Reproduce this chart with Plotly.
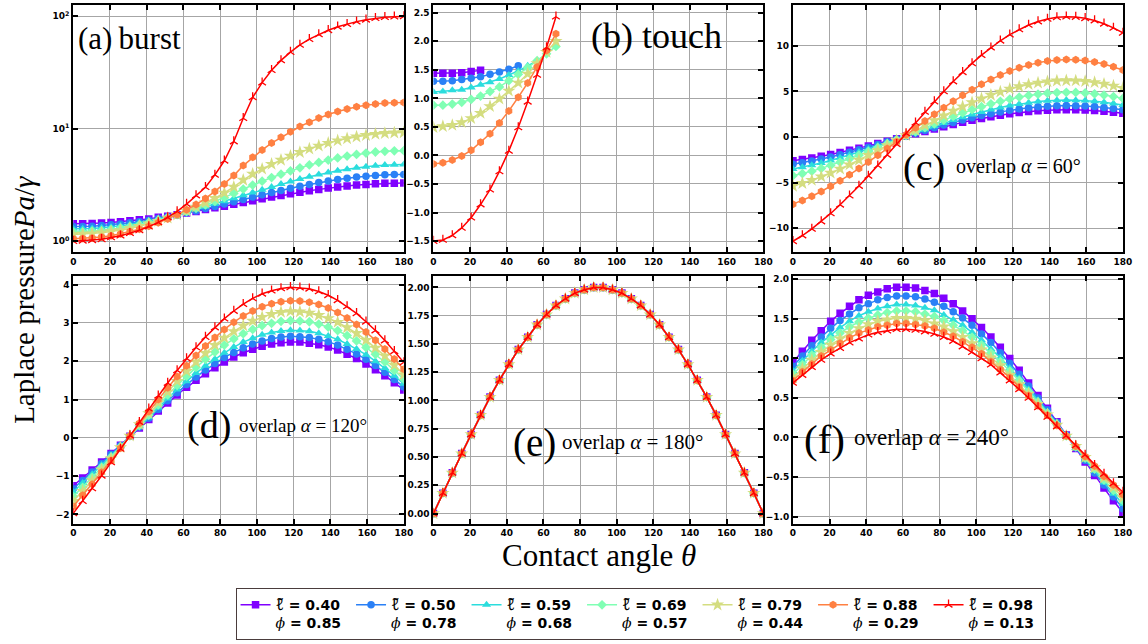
import plotly.graph_objects as go

# ---------------- data ----------------
theta = [0.0, 5.14, 10.29, 15.43, 20.57, 25.71, 30.86, 36.0, 41.14, 46.29, 51.43, 56.57,
         61.71, 66.86, 72.0, 77.14, 82.29, 87.43, 92.57, 97.71, 102.86, 108.0, 113.14, 118.29,
         123.43, 128.57, 133.71, 138.86, 144.0, 149.14, 154.29, 159.43, 164.57, 169.71, 174.86, 180.0]

ell_labels = ["0.40", "0.50", "0.59", "0.69", "0.79", "0.88", "0.98"]
phi_labels = ["0.85", "0.78", "0.68", "0.57", "0.44", "0.29", "0.13"]

# (a) burst  (log scale)
burst_040 = [1.43,1.43,1.44,1.45,1.47,1.49,1.52,1.55,1.58,1.63,1.67,1.72,1.78,1.84,1.91,1.98,2.05,2.13,2.21,2.29,2.38,2.47,2.55,2.64,2.73,2.81,2.89,2.97,3.04,3.10,3.16,3.20,3.24,3.27,3.28,3.29]
burst_050 = [1.35,1.35,1.36,1.38,1.40,1.42,1.46,1.49,1.54,1.59,1.65,1.71,1.79,1.86,1.95,2.04,2.14,2.24,2.35,2.47,2.59,2.71,2.83,2.96,3.08,3.20,3.32,3.43,3.54,3.63,3.72,3.79,3.84,3.89,3.91,3.92]
burst_059 = [1.29,1.29,1.30,1.32,1.34,1.37,1.41,1.46,1.51,1.58,1.65,1.73,1.82,1.92,2.03,2.15,2.27,2.41,2.56,2.71,2.87,3.04,3.22,3.39,3.57,3.74,3.91,4.08,4.23,4.37,4.50,4.60,4.69,4.75,4.79,4.80]
burst_069 = [1.21,1.21,1.23,1.24,1.27,1.31,1.35,1.40,1.47,1.54,1.63,1.72,1.83,1.96,2.10,2.26,2.44,2.66,2.91,3.16,3.42,3.68,3.94,4.22,4.49,4.76,5.01,5.27,5.50,5.72,5.91,6.07,6.21,6.30,6.36,6.38]
burst_079 = [1.15,1.16,1.17,1.19,1.22,1.25,1.30,1.36,1.43,1.51,1.61,1.72,1.86,2.02,2.20,2.42,2.69,3.04,3.50,3.96,4.39,4.85,5.27,5.73,6.18,6.62,7.05,7.45,7.84,8.18,8.49,8.75,8.96,9.11,9.21,9.25]
burst_088 = [1.05,1.06,1.07,1.09,1.12,1.16,1.22,1.28,1.36,1.46,1.58,1.72,1.90,2.12,2.40,2.77,3.23,3.83,4.70,5.57,6.48,7.45,8.39,9.42,10.46,11.44,12.45,13.39,14.2,15.0,15.7,16.2,16.6,16.9,17.05,17.1]
burst_098 = [1.00,1.01,1.02,1.04,1.08,1.12,1.18,1.25,1.35,1.47,1.63,1.84,2.14,2.55,3.02,3.89,5.19,7.7,12.4,19.0,25.7,33.1,40.5,48.0,55.5,62.5,69.0,75.0,80.5,85.0,89.5,93.0,96.0,98.0,99.0,99.5]

# (b) touch  (series stop at different angles)
touch_040 = [1.44,1.44,1.44,1.45,1.47,1.49]
touch_050 = [1.30,1.30,1.31,1.33,1.35,1.38,1.42,1.46,1.51,1.57]
touch_059 = [1.11,1.12,1.14,1.15,1.19,1.24,1.28,1.34,1.41,1.48,1.57,1.66]
touch_069 = [0.88,0.88,0.90,0.93,0.98,1.04,1.12,1.20,1.31,1.42,1.54,1.66,1.78,1.91]
touch_079 = [0.49,0.51,0.53,0.58,0.65,0.74,0.86,0.99,1.13,1.27,1.43,1.61,1.81,2.00]
touch_088 = [-0.15,-0.13,-0.08,-0.01,0.09,0.23,0.38,0.57,0.78,1.02,1.27,1.55,1.84,2.13]
touch_098 = [-1.50,-1.48,-1.40,-1.27,-1.09,-0.86,-0.60,-0.28,0.08,0.49,0.94,1.41,1.89,2.43]

# (c) overlap alpha = 60
ov60_040 = [-2.60,-2.45,-2.29,-2.11,-1.91,-1.69,-1.46,-1.22,-0.97,-0.71,-0.45,-0.18,0.09,0.36,0.62,0.89,1.14,1.38,1.61,1.84,2.04,2.23,2.40,2.55,2.68,2.79,2.88,2.94,2.99,3.00,2.99,2.96,2.90,2.82,2.72,2.60]
ov60_050 = [-2.99,-2.82,-2.63,-2.42,-2.19,-1.94,-1.68,-1.40,-1.11,-0.82,-0.51,-0.21,0.10,0.41,0.72,1.02,1.31,1.59,1.86,2.11,2.35,2.56,2.76,2.94,3.08,3.21,3.31,3.38,3.43,3.45,3.44,3.41,3.34,3.25,3.13,2.99]
ov60_059 = [-3.51,-3.31,-3.09,-2.84,-2.57,-2.28,-1.97,-1.65,-1.31,-0.96,-0.60,-0.24,0.12,0.48,0.84,1.19,1.53,1.87,2.18,2.48,2.75,3.01,3.24,3.45,3.62,3.77,3.89,3.97,4.03,4.05,4.04,4.00,3.92,3.81,3.67,3.51]
ov60_069 = [-4.24,-4.01,-3.74,-3.44,-3.11,-2.76,-2.39,-1.99,-1.58,-1.16,-0.73,-0.29,0.15,0.58,1.02,1.45,1.86,2.26,2.64,3.00,3.33,3.64,3.92,4.17,4.38,4.56,4.70,4.81,4.88,4.90,4.89,4.84,4.74,4.61,4.44,4.24]
ov60_079 = [-5.37,-5.07,-4.73,-4.35,-3.94,-3.49,-3.02,-2.52,-2.00,-1.47,-0.92,-0.37,0.19,0.74,1.29,1.83,2.35,2.86,3.34,3.79,4.22,4.61,4.96,5.28,5.54,5.77,5.95,6.08,6.17,6.20,6.18,6.12,6.00,5.83,5.62,5.37]
ov60_088 = [-7.36,-6.95,-6.49,-5.97,-5.40,-4.79,-4.14,-3.46,-2.75,-2.01,-1.27,-0.51,0.26,1.01,1.77,2.51,3.22,3.92,4.57,5.20,5.78,6.32,6.80,7.23,7.60,7.91,8.16,8.34,8.46,8.50,8.47,8.39,8.23,8.00,7.71,7.36]
ov60_098 = [-11.43,-10.80,-10.07,-9.27,-8.38,-7.43,-6.43,-5.37,-4.26,-3.13,-1.97,-0.79,0.40,1.57,2.75,3.89,5.00,6.09,7.10,8.08,8.98,9.81,10.56,11.23,11.80,12.29,12.67,12.95,13.13,13.20,13.16,13.03,12.78,12.42,11.97,11.43]

# (d) overlap alpha = 120
ov120_040 = [-1.25,-1.05,-0.84,-0.63,-0.41,-0.19,0.04,0.26,0.48,0.70,0.91,1.12,1.32,1.50,1.67,1.83,1.98,2.11,2.22,2.31,2.39,2.45,2.48,2.50,2.50,2.47,2.43,2.37,2.29,2.18,2.07,1.93,1.78,1.62,1.44,1.25]
ov120_050 = [-1.33,-1.11,-0.89,-0.67,-0.43,-0.20,0.04,0.28,0.51,0.74,0.97,1.18,1.39,1.59,1.77,1.94,2.10,2.23,2.35,2.45,2.53,2.59,2.63,2.65,2.64,2.62,2.57,2.51,2.42,2.31,2.19,2.05,1.89,1.71,1.52,1.33]
ov120_059 = [-1.41,-1.18,-0.95,-0.71,-0.46,-0.21,0.04,0.30,0.54,0.79,1.03,1.26,1.48,1.69,1.88,2.06,2.22,2.37,2.50,2.60,2.69,2.75,2.79,2.81,2.80,2.78,2.73,2.66,2.57,2.45,2.32,2.17,2.00,1.82,1.62,1.41]
ov120_069 = [-1.53,-1.29,-1.03,-0.77,-0.50,-0.23,0.05,0.32,0.59,0.86,1.12,1.37,1.61,1.84,2.05,2.24,2.42,2.58,2.72,2.83,2.93,2.99,3.04,3.06,3.05,3.03,2.97,2.89,2.80,2.67,2.53,2.36,2.18,1.98,1.76,1.53]
ov120_079 = [-1.65,-1.39,-1.11,-0.83,-0.54,-0.25,0.05,0.35,0.64,0.92,1.20,1.48,1.74,1.98,2.21,2.42,2.61,2.78,2.93,3.05,3.15,3.23,3.28,3.30,3.29,3.26,3.20,3.12,3.02,2.88,2.73,2.55,2.35,2.14,1.90,1.65]
ov120_088 = [-1.79,-1.50,-1.21,-0.90,-0.59,-0.27,0.05,0.38,0.69,1.00,1.31,1.60,1.88,2.15,2.40,2.62,2.83,3.02,3.18,3.31,3.42,3.50,3.55,3.58,3.57,3.54,3.48,3.39,3.27,3.13,2.96,2.76,2.55,2.32,2.06,1.79]
ov120_098 = [-1.97,-1.65,-1.32,-0.99,-0.64,-0.29,0.06,0.41,0.76,1.10,1.43,1.76,2.07,2.36,2.63,2.88,3.11,3.31,3.49,3.64,3.76,3.84,3.90,3.93,3.92,3.89,3.82,3.72,3.59,3.43,3.25,3.03,2.80,2.54,2.26,1.97]

# (e) overlap alpha = 180 (all seven series coincide)
ov180_all = [0.00,0.18,0.36,0.53,0.70,0.87,1.03,1.18,1.32,1.45,1.56,1.67,1.76,1.84,1.90,1.95,1.98,2.00,2.00,1.98,1.95,1.90,1.84,1.76,1.67,1.56,1.45,1.32,1.18,1.03,0.87,0.70,0.53,0.36,0.18,0.00]

# (f) overlap alpha = 240
ov240_040 = [0.95,1.09,1.23,1.35,1.47,1.57,1.66,1.74,1.80,1.84,1.88,1.90,1.90,1.89,1.86,1.82,1.76,1.69,1.60,1.50,1.39,1.27,1.14,1.00,0.85,0.69,0.53,0.37,0.20,0.03,-0.14,-0.31,-0.48,-0.64,-0.80,-0.95]
ov240_050 = [0.90,1.03,1.16,1.27,1.38,1.48,1.56,1.64,1.69,1.74,1.77,1.79,1.79,1.78,1.75,1.71,1.66,1.59,1.51,1.42,1.31,1.20,1.07,0.94,0.80,0.65,0.50,0.35,0.19,0.03,-0.13,-0.29,-0.45,-0.60,-0.75,-0.90]
ov240_059 = [0.84,0.97,1.09,1.20,1.30,1.39,1.47,1.54,1.59,1.63,1.66,1.68,1.68,1.67,1.64,1.61,1.55,1.49,1.42,1.33,1.23,1.12,1.01,0.88,0.75,0.61,0.47,0.32,0.18,0.03,-0.13,-0.28,-0.42,-0.57,-0.71,-0.84]
ov240_069 = [0.80,0.92,1.04,1.14,1.24,1.32,1.40,1.46,1.51,1.55,1.58,1.60,1.60,1.59,1.56,1.53,1.48,1.42,1.35,1.27,1.17,1.07,0.96,0.84,0.72,0.58,0.45,0.31,0.17,0.02,-0.12,-0.26,-0.40,-0.54,-0.67,-0.80]
ov240_079 = [0.76,0.87,0.98,1.08,1.17,1.25,1.32,1.38,1.43,1.47,1.49,1.51,1.51,1.50,1.48,1.44,1.40,1.34,1.27,1.19,1.11,1.01,0.91,0.79,0.67,0.55,0.42,0.29,0.16,0.02,-0.11,-0.25,-0.38,-0.51,-0.63,-0.76]
ov240_088 = [0.72,0.83,0.93,1.03,1.11,1.19,1.26,1.32,1.36,1.40,1.42,1.44,1.44,1.43,1.41,1.38,1.33,1.28,1.21,1.14,1.06,0.96,0.86,0.76,0.64,0.53,0.40,0.28,0.15,0.02,-0.11,-0.24,-0.36,-0.49,-0.60,-0.72]
ov240_098 = [0.69,0.79,0.89,0.98,1.06,1.13,1.20,1.25,1.30,1.33,1.35,1.37,1.37,1.36,1.34,1.31,1.27,1.22,1.15,1.08,1.00,0.92,0.82,0.72,0.61,0.50,0.38,0.26,0.14,0.02,-0.10,-0.22,-0.35,-0.46,-0.58,-0.69]

panels = [
    [burst_040, burst_050, burst_059, burst_069, burst_079, burst_088, burst_098],
    [touch_040, touch_050, touch_059, touch_069, touch_079, touch_088, touch_098],
    [ov60_040, ov60_050, ov60_059, ov60_069, ov60_079, ov60_088, ov60_098],
    [ov120_040, ov120_050, ov120_059, ov120_069, ov120_079, ov120_088, ov120_098],
    [ov180_all] * 7,
    [ov240_040, ov240_050, ov240_059, ov240_069, ov240_079, ov240_088, ov240_098],
]

# ---------------- styling ----------------
W, H = 1148, 644
colors = ["#8000ff", "#2a80f6", "#2bdddd", "#80ffb4", "#d4dd80", "#ff8042", "#ff0000"]
symbols = ["square", "circle", "triangle-up", "diamond", "star", "hexagon", "y-up"]
msizes = [7.5, 7.5, 8, 7.5, 10, 8, 6.5]

SERIF = "Liberation Serif"
MATH = "DejaVu Serif"


def legend_label(i):
    ell = ('<span style="font-family:Noto Sans;font-weight:normal;font-size:16px">'
           '<i>\u2113\u0303</i></span>')
    phi = '<span style="font-family:%s;font-weight:normal"><i>\u03d5</i></span>' % MATH
    return (ell + " = " + ell_labels[i] + "<br>" + phi + " = " + phi_labels[i])


fig = go.Figure()
for p, series in enumerate(panels):
    suffix = "" if p == 0 else str(p + 1)
    for i, vals in enumerate(series):
        if symbols[i] == "y-up":
            mline = dict(color=colors[i], width=1.3)
        else:
            mline = dict(width=0)
        fig.add_trace(go.Scatter(
            x=theta[:len(vals)], y=vals, mode="lines+markers",
            line=dict(color=colors[i], width=1.5),
            marker=dict(symbol=symbols[i], size=msizes[i], color=colors[i], line=mline),
            xaxis="x" + suffix, yaxis="y" + suffix,
            name=legend_label(i), legendgroup="g%d" % i, showlegend=(p == 0),
        ))

xdoms = [[71 / W, 405 / W], [435 / W, 768.3 / W], [798.3 / W, 1131.7 / W]]
ydoms = [[1 - 250.7 / H, 1 - 3.3 / H], [1 - 523.3 / H, 1 - 275 / H]]

common = dict(showline=True, linecolor="black", linewidth=2, mirror="ticks",
              ticks="inside", ticklen=5, tickwidth=1.5, tickcolor="black",
              showgrid=True, gridcolor="#a6a6a6", gridwidth=1.2, zeroline=False,
              tickfont=dict(family="DejaVu Sans", size=9, color="black", weight="bold"))

yspecs = [
    dict(type="log", range=[-0.095, 2.097], tickmode="array", tickvals=[1, 10, 100],
         ticktext=["10<sup>0</sup>", "10<sup>1</sup>", "10<sup>2</sup>"]),
    dict(range=[-1.69, 2.63], tick0=0, dtick=0.5, tickformat=".1f"),
    dict(range=[-12.6, 14.45], tick0=0, dtick=5),
    dict(range=[-2.24, 4.22], tick0=0, dtick=1),
    dict(range=[-0.09, 2.10], tick0=0, dtick=0.25, tickformat=".2f"),
    dict(range=[-1.09, 2.04], tick0=0, dtick=0.5, tickformat=".1f"),
]

layout_axes = {}
for p in range(6):
    col, row = p % 3, p // 3
    suffix = "" if p == 0 else str(p + 1)
    layout_axes["xaxis" + suffix] = dict(common, domain=xdoms[col], range=[0, 180],
                                         tick0=0, dtick=20, anchor="y" + suffix)
    layout_axes["yaxis" + suffix] = dict(common, domain=ydoms[row], anchor="x" + suffix,
                                         **yspecs[p])

fig.update_layout(**layout_axes)


def px(x):
    return x / W


def py(y):
    return 1 - y / H


annotations = [
    dict(text="(a)\u2009burst", x=px(74), y=py(37), xanchor="left", yanchor="middle",
         font=dict(family=SERIF, size=31, color="black")),
    dict(text="(b) touch", x=px(592), y=py(34), xanchor="left", yanchor="middle",
         font=dict(family=SERIF, size=36, color="black")),
    dict(text="(c)", x=px(931), y=py(166), xanchor="center", yanchor="middle",
         font=dict(family=SERIF, size=38, color="black")),
    dict(text="overlap <i>\u03b1</i> = 60\u00b0", x=px(961), y=py(165), xanchor="left",
         yanchor="middle", font=dict(family=SERIF, size=20, color="black")),
    dict(text="(d)", x=px(208), y=py(425), xanchor="center", yanchor="middle",
         font=dict(family=SERIF, size=38, color="black")),
    dict(text="overlap <i>\u03b1</i> = 120\u00b0", x=px(236), y=py(425), xanchor="left",
         yanchor="middle", font=dict(family=SERIF, size=19, color="black")),
    dict(text="(e)", x=px(537), y=py(442), xanchor="center", yanchor="middle",
         font=dict(family=SERIF, size=39, color="black")),
    dict(text="overlap <i>\u03b1</i> = 180\u00b0", x=px(563), y=py(441), xanchor="left",
         yanchor="middle", font=dict(family=SERIF, size=21, color="black")),
    dict(text="(f)", x=px(830), y=py(438), xanchor="center", yanchor="middle",
         font=dict(family=SERIF, size=41, color="black")),
    dict(text="overlap <i>\u03b1</i> = 240\u00b0", x=px(858), y=py(437), xanchor="left",
         yanchor="middle", font=dict(family=SERIF, size=23, color="black")),
    dict(text="Laplace pressure<i>Pa</i>/<i>\u03b3</i>", x=px(21), y=py(298), textangle=-90,
         xanchor="center", yanchor="middle", font=dict(family=SERIF, size=29, color="black")),
    dict(text="Contact angle <i>\u03b8</i>", x=px(602), y=py(555), xanchor="center",
         yanchor="middle", font=dict(family=SERIF, size=31, color="black")),
]
for a in annotations:
    a.update(xref="paper", yref="paper", showarrow=False)

fig.update_layout(
    width=W, height=H, autosize=False,
    margin=dict(l=0, r=0, t=0, b=0),
    paper_bgcolor="white", plot_bgcolor="white",
    annotations=annotations,
    showlegend=True,
    legend=dict(orientation="h", x=px(235), y=py(588), xanchor="left", yanchor="top",
                bordercolor="#4a3c3c", borderwidth=1, bgcolor="white",
                font=dict(family="DejaVu Sans", size=14, color="black", weight="bold"),
                entrywidth=70.5, entrywidthmode="pixels", valign="top", itemwidth=30,
                tracegroupgap=0),
)

fig.write_html("out.html")
